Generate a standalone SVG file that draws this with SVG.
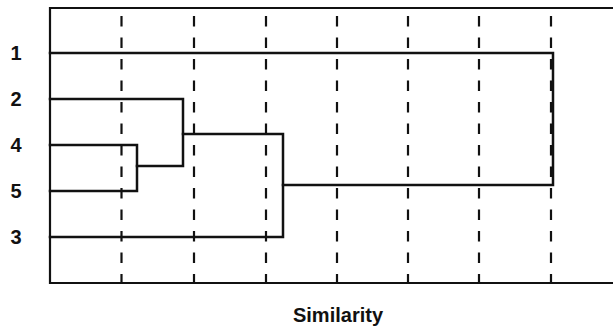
<svg xmlns="http://www.w3.org/2000/svg" width="613" height="328" viewBox="0 0 613 328">
<style>
.grid{stroke:#111;stroke-width:2.2;stroke-dasharray:10.5 11;fill:none}
.frame{stroke:#111;stroke-width:2.2;fill:none}
.link{stroke:#111;stroke-width:2.5;fill:none;stroke-linejoin:miter;stroke-linecap:square}
.lbl{font-family:"Liberation Sans",Arial,sans-serif;font-weight:bold;font-size:20px;fill:#111;text-anchor:middle}
</style>
<rect width="613" height="328" fill="#fff"/>
<g id="frame">
<path class="frame" d="M613 8 H50 V283 H613"/>
</g>
<g id="grid">
<line class="grid" x1="121.5" y1="16" x2="121.5" y2="284"/>
<line class="grid" x1="194" y1="16" x2="194" y2="284"/>
<line class="grid" x1="266" y1="16" x2="266" y2="284"/>
<line class="grid" x1="337" y1="16" x2="337" y2="284"/>
<line class="grid" x1="408" y1="16" x2="408" y2="284"/>
<line class="grid" x1="479" y1="16" x2="479" y2="284"/>
<line class="grid" x1="551" y1="16" x2="551" y2="284"/>
</g>
<g id="node-1"><text class="lbl" x="16" y="60">1</text></g>
<g id="node-2"><text class="lbl" x="16" y="106">2</text></g>
<g id="node-4"><text class="lbl" x="16" y="152">4</text></g>
<g id="node-5"><text class="lbl" x="16" y="198">5</text></g>
<g id="node-3"><text class="lbl" x="16" y="244">3</text></g>
<g id="connectors">
<path class="link" d="M50 145 H137 V191 H50"/>
<path class="link" d="M137 166 H183 V99 H50"/>
<path class="link" d="M183 134 H283 V237 H50"/>
<path class="link" d="M283 185 H553 V53 H50"/>
</g>
<g id="axis-title"><text class="lbl" x="338" y="322">Similarity</text></g>
</svg>
